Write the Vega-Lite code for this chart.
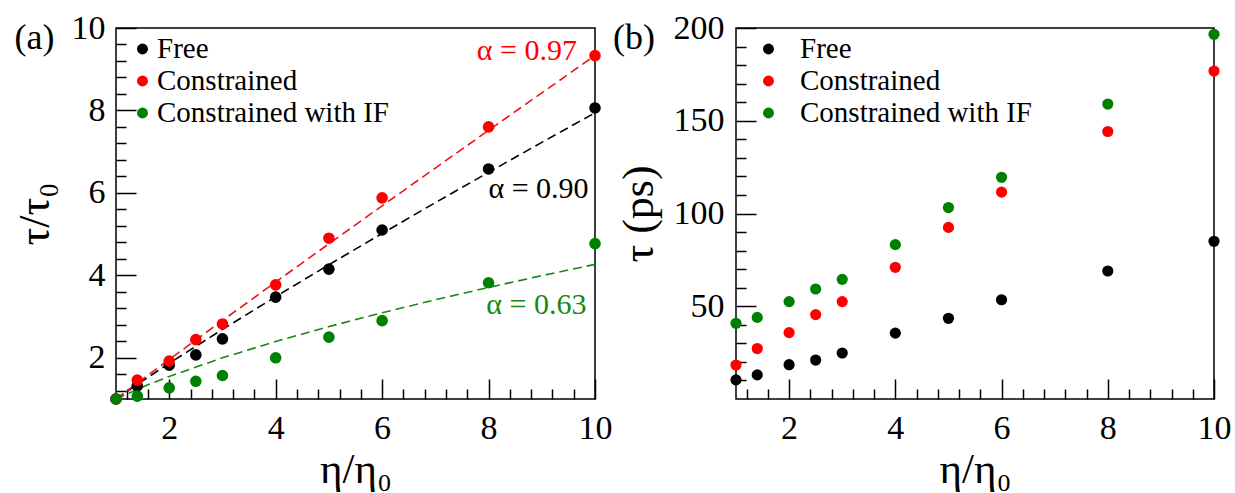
{
  "$schema": "https://vega.github.io/schema/vega-lite/v6.json",
  "background": "white",
  "padding": {"left": 12, "top": 10, "right": 0, "bottom": 0},
  "config": {
    "font": "Liberation Serif",
    "view": {"stroke": "black", "strokeWidth": 1.5},
    "axis": {
      "grid": false,
      "domain": false,
      "tickColor": "black",
      "tickWidth": 1.5,
      "labelColor": "black",
      "titleColor": "black",
      "labelFont": "Liberation Serif",
      "titleFont": "Liberation Serif",
      "labelFontSize": 34,
      "titleFontSize": 44,
      "titleFontWeight": "normal",
      "labelFlush": false,
      "labelOverlap": false
    },
    "legend": {"labelLimit": 400},
    "title": {
      "font": "Liberation Serif",
      "fontSize": 36,
      "fontWeight": "normal",
      "color": "black",
      "anchor": "start",
      "frame": "group",
      "offset": 0,
      "baseline": "middle"
    }
  },
  "datasets": {
    "pts_a": [
      {"eta": 1, "tau": 1.0, "series": "Free"},
      {"eta": 1.4, "tau": 1.32, "series": "Free"},
      {"eta": 2, "tau": 1.82, "series": "Free"},
      {"eta": 2.5, "tau": 2.07, "series": "Free"},
      {"eta": 3, "tau": 2.46, "series": "Free"},
      {"eta": 4, "tau": 3.47, "series": "Free"},
      {"eta": 5, "tau": 4.15, "series": "Free"},
      {"eta": 6, "tau": 5.1, "series": "Free"},
      {"eta": 8, "tau": 6.58, "series": "Free"},
      {"eta": 10, "tau": 8.06, "series": "Free"},
      {"eta": 1, "tau": 1.0, "series": "Constrained"},
      {"eta": 1.4, "tau": 1.46, "series": "Constrained"},
      {"eta": 2, "tau": 1.92, "series": "Constrained"},
      {"eta": 2.5, "tau": 2.44, "series": "Constrained"},
      {"eta": 3, "tau": 2.82, "series": "Constrained"},
      {"eta": 4, "tau": 3.77, "series": "Constrained"},
      {"eta": 5, "tau": 4.9, "series": "Constrained"},
      {"eta": 6, "tau": 5.88, "series": "Constrained"},
      {"eta": 8, "tau": 7.6, "series": "Constrained"},
      {"eta": 10, "tau": 9.33, "series": "Constrained"},
      {"eta": 1, "tau": 1.0, "series": "Constrained with IF"},
      {"eta": 1.4, "tau": 1.07, "series": "Constrained with IF"},
      {"eta": 2, "tau": 1.27, "series": "Constrained with IF"},
      {"eta": 2.5, "tau": 1.43, "series": "Constrained with IF"},
      {"eta": 3, "tau": 1.57, "series": "Constrained with IF"},
      {"eta": 4, "tau": 2.0, "series": "Constrained with IF"},
      {"eta": 5, "tau": 2.5, "series": "Constrained with IF"},
      {"eta": 6, "tau": 2.9, "series": "Constrained with IF"},
      {"eta": 8, "tau": 3.82, "series": "Constrained with IF"},
      {"eta": 10, "tau": 4.77, "series": "Constrained with IF"}
    ],
    "fit_a": [
      {"eta": 1, "tau": 1.0, "series": "Free"},
      {"eta": 1.5, "tau": 1.4404, "series": "Free"},
      {"eta": 2, "tau": 1.8661, "series": "Free"},
      {"eta": 3, "tau": 2.6879, "series": "Free"},
      {"eta": 4, "tau": 3.4822, "series": "Free"},
      {"eta": 5, "tau": 4.2567, "series": "Free"},
      {"eta": 6, "tau": 5.0157, "series": "Free"},
      {"eta": 7, "tau": 5.7623, "series": "Free"},
      {"eta": 8, "tau": 6.498, "series": "Free"},
      {"eta": 9, "tau": 7.2247, "series": "Free"},
      {"eta": 10, "tau": 7.9433, "series": "Free"},
      {"eta": 1, "tau": 1.0, "series": "Constrained"},
      {"eta": 1.5, "tau": 1.4819, "series": "Constrained"},
      {"eta": 2, "tau": 1.9589, "series": "Constrained"},
      {"eta": 3, "tau": 2.9028, "series": "Constrained"},
      {"eta": 4, "tau": 3.8373, "series": "Constrained"},
      {"eta": 5, "tau": 4.764, "series": "Constrained"},
      {"eta": 6, "tau": 5.6859, "series": "Constrained"},
      {"eta": 7, "tau": 6.603, "series": "Constrained"},
      {"eta": 8, "tau": 7.5169, "series": "Constrained"},
      {"eta": 9, "tau": 8.4256, "series": "Constrained"},
      {"eta": 10, "tau": 9.3325, "series": "Constrained"},
      {"eta": 1, "tau": 1.0, "series": "Constrained with IF"},
      {"eta": 1.5, "tau": 1.2911, "series": "Constrained with IF"},
      {"eta": 2, "tau": 1.5475, "series": "Constrained with IF"},
      {"eta": 3, "tau": 1.998, "series": "Constrained with IF"},
      {"eta": 4, "tau": 2.395, "series": "Constrained with IF"},
      {"eta": 5, "tau": 2.7564, "series": "Constrained with IF"},
      {"eta": 6, "tau": 3.0919, "series": "Constrained with IF"},
      {"eta": 7, "tau": 3.4074, "series": "Constrained with IF"},
      {"eta": 8, "tau": 3.7065, "series": "Constrained with IF"},
      {"eta": 9, "tau": 3.9918, "series": "Constrained with IF"},
      {"eta": 10, "tau": 4.2658, "series": "Constrained with IF"}
    ],
    "alpha_a": [
      {"eta": 9.66, "tau": 9.45, "series": "Constrained", "label": "α = 0.97"},
      {"eta": 9.88, "tau": 6.1, "series": "Free", "label": "α = 0.90"},
      {"eta": 9.84, "tau": 3.28, "series": "Constrained with IF", "label": "α = 0.63"}
    ],
    "pts_b": [
      {"eta": 1, "tau": 10.3, "series": "Free"},
      {"eta": 1.4, "tau": 13.0, "series": "Free"},
      {"eta": 2, "tau": 18.5, "series": "Free"},
      {"eta": 2.5, "tau": 21.0, "series": "Free"},
      {"eta": 3, "tau": 24.8, "series": "Free"},
      {"eta": 4, "tau": 35.5, "series": "Free"},
      {"eta": 5, "tau": 43.5, "series": "Free"},
      {"eta": 6, "tau": 53.5, "series": "Free"},
      {"eta": 8, "tau": 69.0, "series": "Free"},
      {"eta": 10, "tau": 85.0, "series": "Free"},
      {"eta": 1, "tau": 18.3, "series": "Constrained"},
      {"eta": 1.4, "tau": 27.2, "series": "Constrained"},
      {"eta": 2, "tau": 35.8, "series": "Constrained"},
      {"eta": 2.5, "tau": 45.5, "series": "Constrained"},
      {"eta": 3, "tau": 52.5, "series": "Constrained"},
      {"eta": 4, "tau": 71.0, "series": "Constrained"},
      {"eta": 5, "tau": 92.5, "series": "Constrained"},
      {"eta": 6, "tau": 111.5, "series": "Constrained"},
      {"eta": 8, "tau": 144.2, "series": "Constrained"},
      {"eta": 10, "tau": 176.8, "series": "Constrained"},
      {"eta": 1, "tau": 40.8, "series": "Constrained with IF"},
      {"eta": 1.4, "tau": 44.0, "series": "Constrained with IF"},
      {"eta": 2, "tau": 52.5, "series": "Constrained with IF"},
      {"eta": 2.5, "tau": 59.3, "series": "Constrained with IF"},
      {"eta": 3, "tau": 64.5, "series": "Constrained with IF"},
      {"eta": 4, "tau": 83.2, "series": "Constrained with IF"},
      {"eta": 5, "tau": 103.2, "series": "Constrained with IF"},
      {"eta": 6, "tau": 119.5, "series": "Constrained with IF"},
      {"eta": 8, "tau": 159.0, "series": "Constrained with IF"},
      {"eta": 10, "tau": 196.6, "series": "Constrained with IF"}
    ]
  },
  "bounds": "flush",
  "spacing": 141,
  "hconcat": [
    {
      "width": 479,
      "height": 371,
      "title": {"text": "(a)", "dx": -101.5, "dy": 50},
      "resolve": {"axis": {"x": "independent", "y": "independent"}},
      "layer": [
        {
          "data": {"name": "fit_a"},
          "mark": {"type": "line", "strokeDash": [9, 5], "strokeWidth": 1.6},
          "encoding": {
            "x": {
              "field": "eta", "type": "quantitative",
              "scale": {"domain": [1, 10], "nice": false, "zero": false},
              "axis": {"orient": "bottom", "values": [1.2, 1.6, 2.4, 2.8, 3.2, 3.6, 4.4, 4.8, 5.2, 5.6, 6.4, 6.8, 7.2, 7.6, 8.4, 8.8, 9.2, 9.6], "tickSize": -10, "labels": false, "title": null}
            },
            "y": {
              "field": "tau", "type": "quantitative",
              "scale": {"domain": [1, 10], "nice": false, "zero": false},
              "axis": {"orient": "left", "values": [1.2, 1.6, 2.4, 2.8, 3.2, 3.6, 4.4, 4.8, 5.2, 5.6, 6.4, 6.8, 7.2, 7.6, 8.4, 8.8, 9.2, 9.6], "tickSize": -10, "labels": false, "title": null}
            },
            "stroke": {
              "field": "series", "type": "nominal",
              "scale": {"domain": ["Free", "Constrained", "Constrained with IF"], "range": ["#000000", "#e8161b", "#138a13"]},
              "legend": null
            },
            "detail": {"field": "series"}
          }
        },
        {
          "data": {"name": "pts_a"},
          "mark": {"type": "circle", "size": 135, "opacity": 1},
          "encoding": {
            "x": {
              "field": "eta", "type": "quantitative",
              "scale": {"domain": [1, 10], "nice": false, "zero": false},
              "axis": {"orient": "bottom", "values": [2, 4, 6, 8, 10], "tickSize": -20, "labelPadding": 32, "title": "η/η₀", "titleFontSize": 43, "titlePadding": 3}
            },
            "y": {
              "field": "tau", "type": "quantitative",
              "scale": {"domain": [1, 10], "nice": false, "zero": false},
              "axis": {"orient": "left", "values": [2, 4, 6, 8, 10], "tickSize": -20, "labelPadding": 31, "title": "τ/τ₀", "titlePadding": 14}
            },
            "color": {
              "field": "series", "type": "nominal",
              "scale": {"domain": ["Free", "Constrained", "Constrained with IF"], "range": ["#000000", "#ff0000", "#008000"]},
              "legend": {"orient": "none", "legendX": 12, "legendY": 6.5, "title": null, "labelFontSize": 29, "labelFont": "Liberation Serif", "labelColor": "black", "labelLimit": 400, "symbolType": "circle", "symbolSize": 120, "symbolStrokeWidth": 0, "symbolOpacity": 1, "labelOffset": 0, "rowPadding": 2, "padding": 0}
            }
          }
        },
        {
          "data": {"name": "alpha_a"},
          "mark": {"type": "text", "align": "right", "baseline": "middle", "fontSize": 30, "font": "Liberation Serif"},
          "encoding": {
            "x": {"field": "eta", "type": "quantitative", "scale": {"domain": [1, 10], "nice": false, "zero": false}, "axis": null},
            "y": {"field": "tau", "type": "quantitative", "scale": {"domain": [1, 10], "nice": false, "zero": false}, "axis": null},
            "text": {"field": "label"},
            "fill": {
              "field": "series", "type": "nominal",
              "scale": {"domain": ["Free", "Constrained", "Constrained with IF"], "range": ["#000000", "#ff0000", "#138a13"]},
              "legend": null
            }
          }
        }
      ]
    },
    {
      "width": 478,
      "height": 371,
      "title": {"text": "(b)", "dx": -123, "dy": 50},
      "resolve": {"axis": {"x": "independent", "y": "independent"}},
      "layer": [
        {
          "data": {"name": "pts_b"},
          "mark": {"type": "circle", "size": 0},
          "encoding": {
            "x": {
              "field": "eta", "type": "quantitative",
              "scale": {"domain": [1, 10], "nice": false, "zero": false},
              "axis": {"orient": "bottom", "values": [1.2, 1.6, 2.4, 2.8, 3.2, 3.6, 4.4, 4.8, 5.2, 5.6, 6.4, 6.8, 7.2, 7.6, 8.4, 8.8, 9.2, 9.6], "tickSize": -10, "labels": false, "title": null}
            },
            "y": {
              "field": "tau", "type": "quantitative",
              "scale": {"domain": [0, 200], "nice": false, "zero": false},
              "axis": {"orient": "left", "values": [10, 20, 30, 40, 60, 70, 80, 90, 110, 120, 130, 140, 160, 170, 180, 190], "tickSize": -10, "labels": false, "title": null}
            }
          }
        },
        {
          "data": {"name": "pts_b"},
          "mark": {"type": "circle", "size": 125, "opacity": 1},
          "encoding": {
            "x": {
              "field": "eta", "type": "quantitative",
              "scale": {"domain": [1, 10], "nice": false, "zero": false},
              "axis": {"orient": "bottom", "values": [2, 4, 6, 8, 10], "tickSize": -20, "labelPadding": 32, "title": "η/η₀", "titleFontSize": 43, "titlePadding": 3}
            },
            "y": {
              "field": "tau", "type": "quantitative",
              "scale": {"domain": [0, 200], "nice": false, "zero": false},
              "axis": {"orient": "left", "values": [50, 100, 150, 200], "tickSize": -20, "labelPadding": 32, "title": "τ (ps)", "titlePadding": 12}
            },
            "color": {
              "field": "series", "type": "nominal",
              "scale": {"domain": ["Free", "Constrained", "Constrained with IF"], "range": ["#000000", "#ff0000", "#008000"]},
              "legend": {"orient": "none", "legendX": 18, "legendY": 6.5, "title": null, "labelFontSize": 29, "labelFont": "Liberation Serif", "labelColor": "black", "labelLimit": 400, "symbolType": "circle", "symbolSize": 120, "symbolStrokeWidth": 0, "symbolOpacity": 1, "labelOffset": 17, "rowPadding": 2, "padding": 0}
            }
          }
        }
      ]
    }
  ],
  "resolve": {"scale": {"color": "independent"}}
}
